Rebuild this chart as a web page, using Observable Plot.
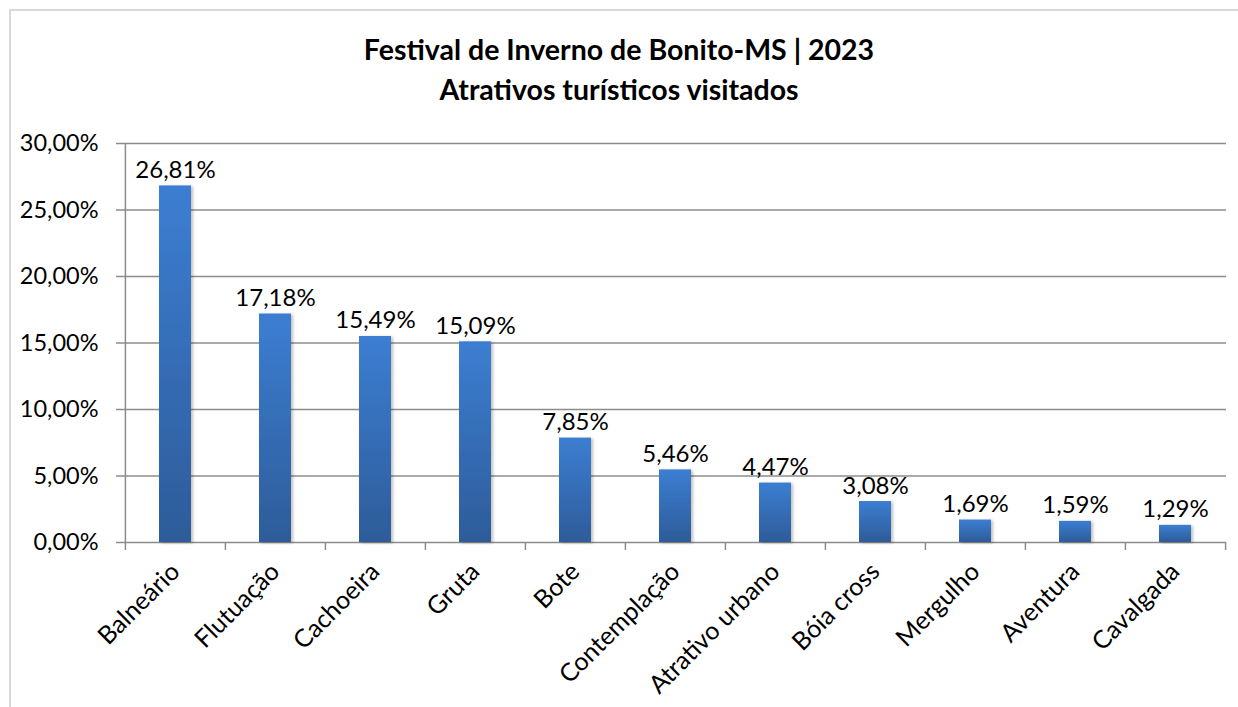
<!DOCTYPE html>
<html>
<head>
<meta charset="utf-8">
<script src="https://cdn.jsdelivr.net/npm/d3@7"></script>
<script src="https://cdn.jsdelivr.net/npm/@observablehq/plot@0.6"></script>
<style>
  html, body { margin: 0; padding: 0; background: #fff; }
  #wrap { position: relative; width: 1238px; height: 707px; overflow: hidden; font-family: Lato, "Open Sans", sans-serif; }
  #frame { position: absolute; left: 9px; top: 9px; width: 1300px; height: 800px; border: 2px solid #d9d9d9; box-sizing: border-box; pointer-events: none; }
  #title { position: relative; height: 125px; box-sizing: border-box; padding-top: 29px; text-align: center; font-weight: bold; font-size: 28.5px; line-height: 40px; color: #000; }
  #chart svg { display: block; }
</style>
</head>
<body>
<div id="wrap">
  <div id="frame"></div>
  <div id="title">Festival de Inverno de Bonito-MS | 2023<br>Atrativos turísticos visitados</div>
  <div id="chart"></div>
</div>
<script>
const categories = ["Balneário", "Flutuação", "Cachoeira", "Gruta", "Bote", "Contemplação", "Atrativo urbano", "Bóia cross", "Mergulho", "Aventura", "Cavalgada"];
const values = [26.81, 17.18, 15.49, 15.09, 7.85, 5.46, 4.47, 3.08, 1.69, 1.59, 1.29];
const yTicks = [0, 5, 10, 15, 20, 25, 30];

const data = categories.map((c, i) => ({category: c, value: values[i]}));
const fmt = v => v.toFixed(2).replace(".", ",") + "%";

const width = 1238, height = 582;
const marginLeft = 124, marginRight = 12, marginTop = 18, marginBottom = 165;
const band = (width - marginLeft - marginRight) / categories.length;
const gridColor = "#8c8c8c";
const fs = 23.5;

const plot = Plot.plot({
  width, height, marginLeft, marginRight, marginTop, marginBottom,
  style: {fontFamily: "Lato, 'Open Sans', sans-serif", fontSize: fs + "px", color: "#000", background: "transparent", overflow: "visible"},
  x: {domain: categories, paddingInner: 0.68, paddingOuter: 0.34, label: null},
  y: {domain: [0, 30], label: null},
  marks: [
    Plot.ruleY(yTicks, {stroke: gridColor, strokeWidth: 1.5}),
    Plot.ruleX([categories[0]], {dx: -band / 2, stroke: gridColor, strokeWidth: 1.5, y1: 0, y2: 30}),
    Plot.ruleX(categories, {x: d => d, dx: -band / 2, y1: 0, y2: 0, insetBottom: -8, stroke: gridColor, strokeWidth: 1.5}),
    Plot.ruleX([categories[categories.length - 1]], {dx: band / 2, y1: 0, y2: 0, insetBottom: -8, stroke: gridColor, strokeWidth: 1.5}),
    Plot.axisX({tickSize: 0, tickRotate: -45, tickPadding: 25, fontSize: 25, fill: "#000", label: null}),
    Plot.axisY({ticks: yTicks, tickSize: 8, tickPadding: 18, stroke: gridColor, strokeWidth: 1.5, tickFormat: fmt, fontSize: fs, fill: "#000", label: null}),
    Plot.barY(data, {x: "category", y: "value", fill: "url(#barGrad)"}),
    Plot.text(data, {x: "category", y: "value", text: d => fmt(d.value), lineAnchor: "bottom", dy: -8, fontSize: 24, fill: "#000"})
  ]
});

// gradient + shadow defs
const svg = d3.select(plot);
const defs = svg.insert("defs", ":first-child");
const g = defs.append("linearGradient").attr("id", "barGrad").attr("x1", 0).attr("y1", 0).attr("x2", 0).attr("y2", 1);
g.append("stop").attr("offset", "0%").attr("stop-color", "#3c7ed2");
g.append("stop").attr("offset", "100%").attr("stop-color", "#2d5c99");
const f = defs.append("filter").attr("id", "shadow").attr("x", "-20%").attr("y", "-5%").attr("width", "150%").attr("height", "115%");
f.append("feDropShadow").attr("dx", 2).attr("dy", 1).attr("stdDeviation", 1.5).attr("flood-color", "#000").attr("flood-opacity", 0.25);
svg.selectAll("rect").filter(function() { return this.getAttribute("fill") === "url(#barGrad)" || (this.parentNode && this.parentNode.getAttribute("fill") === "url(#barGrad)"); })
  .attr("filter", "url(#shadow)");

document.getElementById("chart").appendChild(plot);
</script>
</body>
</html>
